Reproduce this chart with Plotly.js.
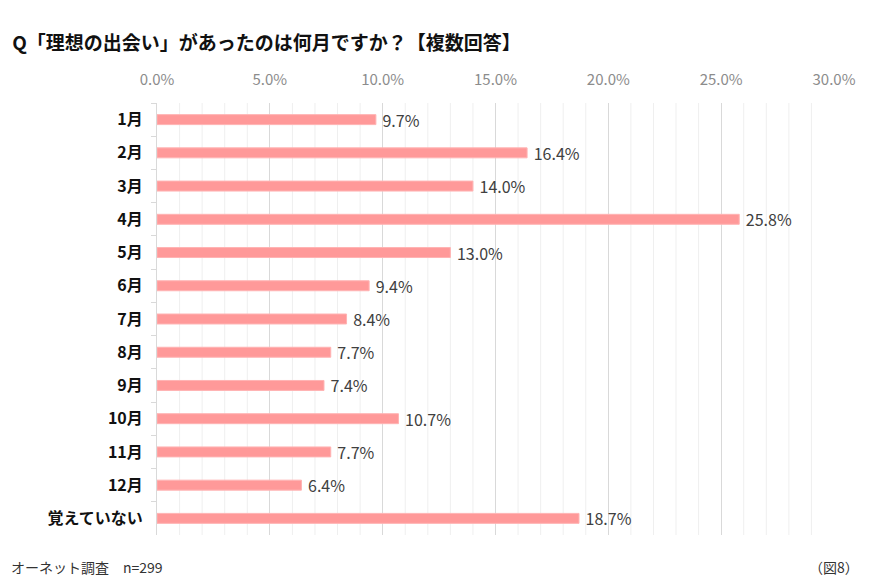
<!DOCTYPE html>
<html>
<head>
<meta charset="utf-8">
<script src="https://cdn.plot.ly/plotly-3.0.1.min.js"></script>
<style>
  body { margin: 0; background: #fff; }
  #chart { width: 871px; height: 583px; }
</style>
</head>
<body>
<div id="chart"></div>
<script>
// 回答項目（上から順）
var months = ['1月', '2月', '3月', '4月', '5月', '6月', '7月', '8月', '9月', '10月', '11月', '12月', '覚えていない'];
// 割合（%）
var shares = [9.7, 16.4, 14.0, 25.8, 13.0, 9.4, 8.4, 7.7, 7.4, 10.7, 7.7, 6.4, 18.7];
var xTicks = [0, 5, 10, 15, 20, 25, 30];

var fontJP = '"Noto Sans CJK JP", "Noto Sans", sans-serif';

// 1%刻みの補助線
var minorLines = [];
for (let v = 1; v < 30; v++) {
  if (v % 5 === 0) continue;
  minorLines.push({
    type: 'line', xref: 'x', yref: 'paper',
    x0: v, x1: v, y0: 0, y1: 1,
    line: { color: '#efefef', width: 1 },
    layer: 'below'
  });
}

var trace = {
  type: 'bar',
  orientation: 'h',
  x: shares,
  y: months,
  width: 0.3,
  marker: { color: '#ff9999', line: { color: '#ffb3b3', width: 1 } },
  text: shares.map(v => '\u00a0' + v.toFixed(1) + '%'),
  textposition: 'outside',
  constraintext: 'none',
  cliponaxis: false,
  textfont: { family: fontJP, size: 16, color: '#404040' },
  hoverinfo: 'none'
};

var layout = {
  width: 871,
  height: 583,
  margin: { l: 157, r: 37, t: 103, b: 48 },
  paper_bgcolor: '#fff',
  plot_bgcolor: '#fff',
  showlegend: false,
  font: { family: fontJP },
  title: {
    text: '<b>Q「理想の出会い」があったのは何月ですか？【複数回答】</b>',
    x: 0.014, xanchor: 'left', y: 0.925, yanchor: 'middle',
    font: { family: fontJP, size: 19, color: '#111' }
  },
  xaxis: {
    side: 'top',
    range: [0, 30],
    tickvals: xTicks,
    ticktext: xTicks.map(v => v.toFixed(1) + '%'),
    tickfont: { family: fontJP, size: 15, color: '#8c8c8c' },
    showgrid: true,
    gridcolor: '#d9d9d9',
    zeroline: false,
    showline: false,
    ticks: '',
    ticklabelstandoff: 14,
    fixedrange: true
  },
  yaxis: {
    autorange: 'reversed',
    categoryorder: 'array',
    categoryarray: months,
    tickfont: { family: fontJP, size: 16, color: '#111', weight: 'bold' },
    showline: true,
    linecolor: '#d9d9d9',
    ticks: 'outside',
    tickson: 'boundaries',
    ticklen: 5,
    tickcolor: '#d9d9d9',
    showgrid: false,
    zeroline: false,
    ticklabelstandoff: 10,
    fixedrange: true
  },
  shapes: minorLines,
  annotations: [
    {
      text: 'オーネット調査　n=299',
      xref: 'paper', yref: 'paper', x: -0.218, y: -0.073,
      xanchor: 'left', yanchor: 'middle', showarrow: false,
      font: { family: fontJP, size: 14, color: '#333' }
    },
    {
      text: '（図8）',
      xref: 'paper', yref: 'paper', x: 1.04, y: -0.073,
      xanchor: 'right', yanchor: 'middle', showarrow: false,
      font: { family: fontJP, size: 14, color: '#333' }
    }
  ]
};

Plotly.newPlot('chart', [trace], layout, { displayModeBar: false, staticPlot: true });
</script>
</body>
</html>
